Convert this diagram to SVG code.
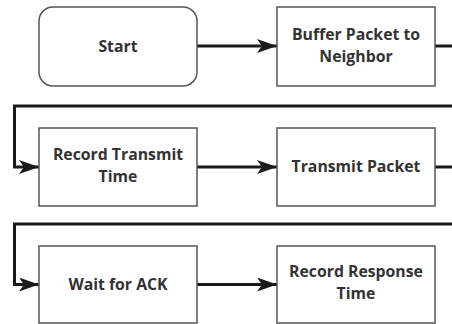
<svg xmlns="http://www.w3.org/2000/svg" width="452" height="324" viewBox="0 0 452 324">
  <defs>
    <marker id="arrow" viewBox="0 0 20 14" refX="20" refY="7" markerWidth="20" markerHeight="14" markerUnits="userSpaceOnUse" orient="auto">
      <path d="M0,0 L20,7 L0,14 L5,7 Z" fill="#1a1a1a"/>
    </marker>
  </defs>
  <style>
    .box { fill: #ffffff; stroke: #555555; stroke-width: 1.5; }
    .label { font-family: "Open Sans", "Noto Sans", sans-serif; font-weight: bold; font-size: 15.8px; fill: #333333; text-anchor: middle; }
    .wire { fill: none; stroke: #1a1a1a; stroke-width: 3; }
  </style>
  <rect width="452" height="324" fill="#ffffff"/>

  <g id="connectors">
    <path class="wire" d="M197,46 L277,46" marker-end="url(#arrow)"/>
    <path class="wire" d="M435,46 L452,46"/>
    <path class="wire" d="M452,106 L14.5,106 L14.5,167 L39,167" marker-end="url(#arrow)"/>
    <path class="wire" d="M197,167 L277,167" marker-end="url(#arrow)"/>
    <path class="wire" d="M435,167 L452,167"/>
    <path class="wire" d="M452,224 L14.5,224 L14.5,284.5 L39,284.5" marker-end="url(#arrow)"/>
    <path class="wire" d="M197,284.5 L277,284.5" marker-end="url(#arrow)"/>
  </g>

  <g id="start">
    <rect class="box" x="39" y="7" width="158" height="79" rx="14"/>
    <text class="label" x="118" y="51.5">Start</text>
  </g>
  <g id="buffer-packet">
    <rect class="box" x="277" y="7" width="158" height="79"/>
    <text class="label" x="356" y="39.5">Buffer Packet to</text>
    <text class="label" x="356" y="61.5">Neighbor</text>
  </g>
  <g id="record-transmit">
    <rect class="box" x="39" y="128" width="158" height="78"/>
    <text class="label" x="118" y="159.5">Record Transmit</text>
    <text class="label" x="118" y="181.5">Time</text>
  </g>
  <g id="transmit-packet">
    <rect class="box" x="277" y="128" width="158" height="78"/>
    <text class="label" x="356" y="171.5">Transmit Packet</text>
  </g>
  <g id="wait-ack">
    <rect class="box" x="39" y="246" width="158" height="77"/>
    <text class="label" x="118" y="289.5">Wait for ACK</text>
  </g>
  <g id="record-response">
    <rect class="box" x="277" y="246" width="158" height="77"/>
    <text class="label" x="356" y="277">Record Response</text>
    <text class="label" x="356" y="299">Time</text>
  </g>
</svg>
